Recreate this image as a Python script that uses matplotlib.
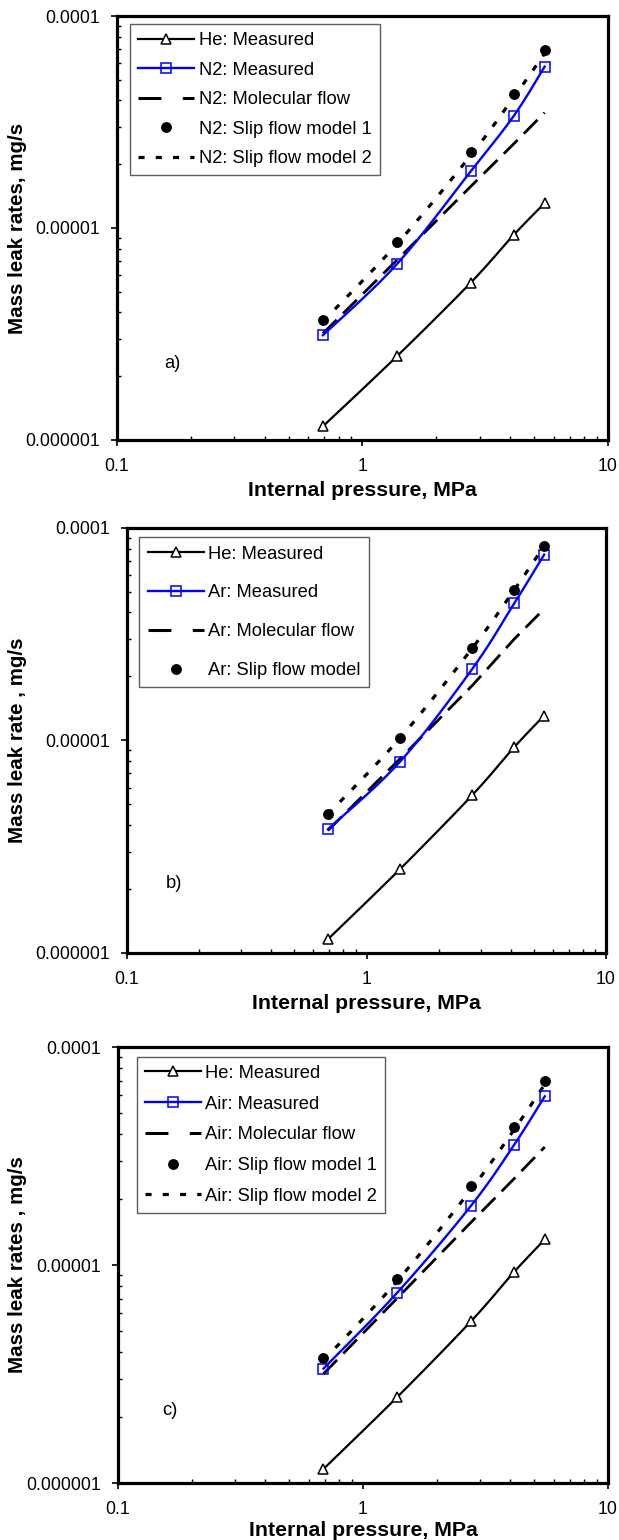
import numpy as np
import matplotlib
matplotlib.use('Agg')
import matplotlib.pyplot as plt
from matplotlib.ticker import NullFormatter, LogLocator

plt.rcParams['font.family'] = ['Liberation Sans', 'DejaVu Sans']

# internal pressure, MPa (same test points in all three panels)
pressure = [0.69, 1.38, 2.76, 4.14, 5.52]

# helium reference, mg/s
he_meas = [1.16e-6, 2.48e-6, 5.52e-6, 9.3e-6, 1.31e-5]

# a) nitrogen
n2_meas = [3.12e-6, 6.75e-6, 1.85e-5, 3.39e-5, 5.77e-5]
n2_mol = [3.18e-6, 7.05e-6, 1.57e-5, 2.5e-5, 3.5e-5]
n2_slip1 = [3.70e-6, 8.55e-6, 2.28e-5, 4.29e-5, 6.89e-5]
n2_slip2 = [3.62e-6, 8.4e-6, 2.2e-5, 4.15e-5, 6.65e-5]

# b) argon
ar_meas = [3.82e-6, 7.94e-6, 2.165e-5, 4.42e-5, 7.49e-5]
ar_mol = [3.77e-6, 8.2e-6, 1.81e-5, 3.0e-5, 4.16e-5]
ar_slip = [4.49e-6, 1.026e-5, 2.71e-5, 5.11e-5, 8.23e-5]

# c) air
air_meas = [3.35e-6, 7.47e-6, 1.87e-5, 3.56e-5, 5.94e-5]
air_mol = [3.17e-6, 7.05e-6, 1.57e-5, 2.49e-5, 3.48e-5]
air_slip1 = [3.74e-6, 8.63e-6, 2.30e-5, 4.31e-5, 6.96e-5]
air_slip2 = [3.65e-6, 8.45e-6, 2.22e-5, 4.18e-5, 6.75e-5]


def smooth(x, y, n=25):
    # excel-like smoothed line (catmull-rom bezier) in log-log space
    lx, ly = np.log10(x), np.log10(y)
    P = np.column_stack([lx, ly])
    P = np.vstack([P[0], P, P[-1]])
    out = []
    t = np.linspace(0, 1, n)[:, None]
    for i in range(1, len(P) - 2):
        p0, p3 = P[i], P[i + 1]
        c1 = p0 + (P[i + 1] - P[i - 1]) / 6
        c2 = p3 - (P[i + 2] - P[i]) / 6
        seg = ((1 - t) ** 3) * p0 + 3 * ((1 - t) ** 2) * t * c1 + 3 * (1 - t) * t ** 2 * c2 + t ** 3 * p3
        out.append(seg)
    out = np.vstack(out)
    return 10 ** out[:, 0], 10 ** out[:, 1]


fig = plt.figure(figsize=(6.19, 15.4), dpi=100)

DASH = (0, (7, 3.2))
DOT = (0, (1.9, 3.5))

panels = [
    dict(rect=[0.189, 0.7143, 0.7932, 0.2753], gas='N2', meas=n2_meas, mol=n2_mol,
         slip1=n2_slip1, slip2=n2_slip2, ylabel='Mass leak rates, mg/s', tag='a)',
         tagpos=(0.113, 0.181), ylx=-0.2026, xly=-0.118, leg=(0.0265, 0.981), spacing=0.68),
    dict(rect=[0.2052, 0.3812, 0.7738, 0.276], gas='Ar', meas=ar_meas, mol=ar_mol,
         slip1=ar_slip, slip2=ar_slip, ylabel='Mass leak rate , mg/s', tag='b)',
         tagpos=(0.0975, 0.164), ylx=-0.2286, xly=-0.118, leg=(0.026, 0.978), spacing=1.19),
    dict(rect=[0.1906, 0.037, 0.7916, 0.2831], gas='Air', meas=air_meas, mol=air_mol,
         slip1=air_slip1, slip2=air_slip2, ylabel='Mass leak rates , mg/s', tag='c)',
         tagpos=(0.106, 0.167), ylx=-0.205, xly=-0.108, leg=(0.038, 0.978), spacing=0.75),
]

for p in panels:
    ax = fig.add_axes(p['rect'])
    ax.set_xscale('log')
    ax.set_yscale('log')

    hx, hy = smooth(pressure, he_meas)
    ax.plot(hx, hy, color='black', lw=1.6, zorder=3)
    ax.plot(pressure, he_meas, ls='none', marker='^', ms=7, mfc='white', mec='black', mew=1.1, zorder=4)

    mx, my = smooth(pressure, p['meas'])
    ax.plot(mx, my, color='#0000ff', lw=1.7, zorder=3)
    ax.plot(pressure, p['meas'], ls='none', marker='s', ms=7, mfc='none', mec='#0000ff', mew=1.1, zorder=4)

    ax.plot(pressure, p['mol'], color='black', lw=2.0, ls=DASH, zorder=2)
    ax.plot(pressure, p['slip1'], ls='none', marker='o', ms=6.8, color='black', zorder=4)
    sx, sy = smooth(pressure, p['slip2'])
    ax.plot(sx, sy, color='black', lw=2.3, ls=DOT, zorder=2)

    gas = p['gas']
    h1, = ax.plot([], [], color='black', lw=1.6, marker='^', ms=7, mfc='white', mec='black', mew=1.1)
    h2, = ax.plot([], [], color='#0000ff', lw=1.7, marker='s', ms=7, mfc='none', mec='#0000ff', mew=1.1)
    h3, = ax.plot([], [], color='black', lw=2.2, ls=(0, (7.5, 7)))
    h4, = ax.plot([], [], ls='none', marker='o', ms=6.8, color='black')
    h5, = ax.plot([], [], color='black', lw=2.3, ls=DOT)
    if gas == 'Ar':
        handles = [h1, h2, h3, h4]
        labels = ['He: Measured', 'Ar: Measured', 'Ar: Molecular flow', 'Ar: Slip flow model']
    else:
        handles = [h1, h2, h3, h4, h5]
        labels = ['He: Measured', gas + ': Measured', gas + ': Molecular flow',
                  gas + ': Slip flow model 1', gas + ': Slip flow model 2']
    leg = ax.legend(handles, labels, loc='upper left', bbox_to_anchor=p['leg'], borderaxespad=0,
                    fontsize=13.2, frameon=True, fancybox=False, edgecolor='#333333',
                    handlelength=3.05, handletextpad=0.25, labelspacing=p['spacing'],
                    borderpad=0.45, numpoints=1)
    leg.get_frame().set_linewidth(1.0)

    ax.text(p['tagpos'][0], p['tagpos'][1], p['tag'], transform=ax.transAxes,
            fontsize=13.2, ha='center', va='center')

    ax.set_xlim(0.1, 10)
    ax.set_ylim(1e-6, 1e-4)
    ax.set_xticks([0.1, 1, 10], labels=['0.1', '1', '10'])
    ax.set_yticks([1e-6, 1e-5, 1e-4], labels=['0.000001', '0.00001', '0.0001'])
    ax.xaxis.set_minor_locator(LogLocator(base=10, subs=np.arange(2, 10)))
    ax.yaxis.set_minor_locator(LogLocator(base=10, subs=np.arange(2, 10)))
    ax.xaxis.set_minor_formatter(NullFormatter())
    ax.yaxis.set_minor_formatter(NullFormatter())
    ax.tick_params(which='major', direction='out', length=4, width=1.2, labelsize=12.7)
    ax.tick_params(axis='x', which='major', pad=9)
    ax.tick_params(axis='y', which='major', pad=8)
    ax.tick_params(which='minor', direction='in', length=3, width=1.0)
    for s in ax.spines.values():
        s.set_linewidth(2.3)

    ax.set_xlabel('Internal pressure, MPa', fontsize=15.3, fontweight='bold')
    ax.set_ylabel(p['ylabel'], fontsize=14.8, fontweight='bold')
    ax.xaxis.set_label_coords(0.5, p['xly'])
    ax.xaxis.label.set_va('center')
    ax.yaxis.set_label_coords(p['ylx'], 0.5)
    ax.yaxis.label.set_va('center')

fig.savefig('out.png', dpi=100)
